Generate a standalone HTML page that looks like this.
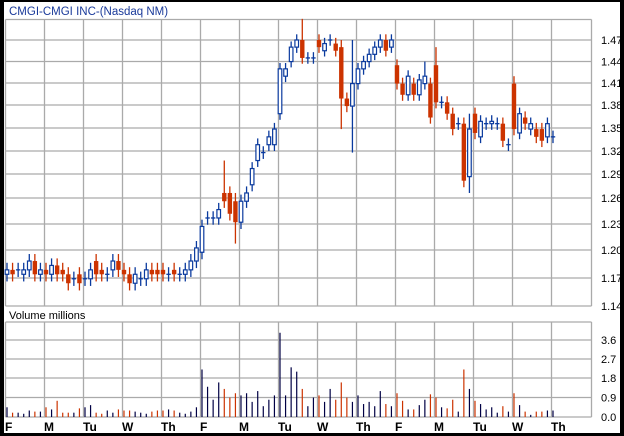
<!DOCTYPE html>
<html><head><meta charset="utf-8"><style>
html,body{margin:0;padding:0;background:#000;}
svg{display:block;font-family:"Liberation Sans",sans-serif;}
</style></head><body>
<svg id="s" width="624" height="436" xmlns="http://www.w3.org/2000/svg">
<rect x="0" y="0" width="624" height="436" fill="#000"/>
<rect x="4" y="2" width="616" height="431" fill="#fff"/>
<g id="g"></g>
<text x="9" y="15" font-size="11.5" fill="#1a3a9a">CMGI-CMGI INC-(Nasdaq NM)</text>
<text x="9" y="319" font-size="11" fill="#000">Volume  millions</text>
</svg>
<script>
var NS="http://www.w3.org/2000/svg",g=document.getElementById("g"),h="";
function Y(p){return 40+1046*(Math.log(1.47)-Math.log(p));}
var pl=[[1.47,40],[1.44,61.5],[1.41,83],[1.38,105],[1.35,128],[1.32,151],[1.29,174],[1.26,198],[1.23,224],[1.20,250],[1.17,278],[1.14,306]];
var G='stroke="#aaa" stroke-width="1.3"';
// vertical grid
var days=["F","M","Tu","W","Th","F","M","Tu","W","Th","F","M","Tu","W","Th"];
for(var d=0;d<15;d++){var x=5.5+d*39;
 h+='<line x1="'+x+'" y1="19.5" x2="'+x+'" y2="306" '+G+'/>';
 h+='<line x1="'+x+'" y1="322" x2="'+x+'" y2="417" '+G+'/>';
 h+='<text x="'+(x-0.5)+'" y="431" font-size="12" font-weight="bold" fill="#000">'+days[d]+'</text>';}
h+='<line x1="591.5" y1="19.5" x2="591.5" y2="306" '+G+'/><line x1="591.5" y1="322" x2="591.5" y2="417" '+G+'/>';
h+='<line x1="5.5" y1="19.5" x2="591.5" y2="19.5" '+G+'/><line x1="5.5" y1="322" x2="591.5" y2="322" '+G+'/>';
pl.forEach(function(a){h+='<line x1="5.5" y1="'+a[1]+'" x2="591.5" y2="'+a[1]+'" '+G+'/>';
 h+='<text x="601" y="'+(a[1]+4)+'" font-size="11" fill="#000">'+a[0].toFixed(2)+'</text>';});
var vl=[[3.6,340],[2.7,359],[1.8,378],[0.9,397.5],[0.0,417]];
vl.forEach(function(a){h+='<line x1="5.5" y1="'+a[1]+'" x2="591.5" y2="'+a[1]+'" '+G+'/>';
 h+='<text x="601" y="'+(a[1]+4)+'" font-size="11" fill="#000">'+a[0].toFixed(1)+'</text>';});
var D=[
[1.175,1.18],[1.18,1.175],[1.18,1.18],[1.175,1.18],[1.18,1.19],[1.19,1.175],[1.175,1.18],
[1.18,1.175],[1.175,1.185],[1.185,1.175],[1.18,1.175],[1.175,1.165],[1.17,1.17],[1.175,1.165],
[1.17,1.17],[1.17,1.18],[1.19,1.175],[1.18,1.175],[1.175,1.175],[1.18,1.19],[1.19,1.18],
[1.18,1.175],[1.175,1.165],[1.165,1.175],[1.17,1.17],[1.17,1.18],[1.18,1.175],[1.18,1.175],
[1.18,1.175],[1.175,1.175],[1.18,1.175],[1.175,1.175],[1.175,1.18],[1.18,1.19],[1.19,1.205],
[1.20,1.23],[1.24,1.24],[1.24,1.24],[1.24,1.25],[1.27,1.26,1.31],[1.27,1.245],[1.26,1.235,1.27,1.21],
[1.235,1.26],[1.26,1.27],[1.28,1.30],[1.31,1.33],[1.32,1.32],[1.33,1.34],[1.33,1.35],
[1.37,1.43],[1.42,1.43],[1.44,1.46],[1.46,1.47],[1.47,1.445,1.50],[1.445,1.445],[1.445,1.445],
[1.47,1.46],[1.455,1.465],[1.47,1.47],[1.465,1.455],[1.46,1.39,1.47,1.35],[1.39,1.38],[1.38,1.41,1.47,1.32],
[1.41,1.43],[1.43,1.44],[1.44,1.45],[1.45,1.46],[1.46,1.47],[1.47,1.455],[1.46,1.47],
[1.435,1.41],[1.41,1.395],[1.395,1.42],[1.41,1.395],[1.395,1.415],[1.41,1.42,1.44],[1.41,1.365],
[1.435,1.385,1.46],[1.385,1.385],[1.385,1.37],[1.37,1.35],[1.357,1.357],[1.357,1.285],[1.29,1.35,1.37,1.27],
[1.37,1.345],[1.34,1.36],[1.357,1.357],[1.357,1.36],[1.357,1.357],[1.357,1.335],[1.33,1.33],
[1.41,1.35,1.42],[1.345,1.37],[1.365,1.357],[1.35,1.357],[1.35,1.34],[1.35,1.335],[1.34,1.357],[1.34,1.34]];
var V=[0.45,0.2,0.2,0.15,0.3,0.25,0.25,0.45,0.35,0.75,0.2,0.2,0.2,0.4,0.45,0.55,0.2,0.15,0.3,0.2,0.35,
0.3,0.3,0.25,0.2,0.15,0.25,0.3,0.3,0.35,0.3,0.2,0.15,0.25,0.45,
2.2,1.4,0.8,1.6,1.3,0.9,1.1,1.0,1.1,0.7,1.2,0.5,0.8,1.0,3.9,1.0,2.3,2.1,1.3,0.5,0.9,
1.0,0.7,1.3,0.8,1.6,0.9,0.7,1.0,0.6,0.7,0.5,1.2,0.6,0.5,1.1,
.75,.35,.35,.55,.8,1.05,.9,.45,.4,.8,.25,2.2,1.3,.75,.6,.35,.45,.2,.5,.25,1.1,.55,.25,.1,.25,.25,.3,.3];
for(var i=0;i<D.length;i++){var c=D[i],o=c[0],cl=c[1],x=7+i*39/7;
 var hi=c[2]||Math.max(o,cl)+0.008,lo=c[3]||Math.min(o,cl)-0.008;
 var up=cl>=o,col=up?"#0a3a9e":"#cc3300";
 h+='<line x1="'+x+'" y1="'+Y(hi)+'" x2="'+x+'" y2="'+Y(lo)+'" stroke="'+col+'" stroke-width="1.3"/>';
 var t=Y(Math.max(o,cl)),b=Y(Math.min(o,cl));
 if(b-t<1.5){h+='<line x1="'+(x-2.2)+'" y1="'+t+'" x2="'+(x+2.2)+'" y2="'+t+'" stroke="'+col+'" stroke-width="1.3"/>';}
 else if(up){h+='<rect x="'+(x-1.8)+'" y="'+t+'" width="3.6" height="'+(b-t)+'" fill="#fff" stroke="'+col+'" stroke-width="1.2"/>';}
 else{h+='<rect x="'+(x-2.2)+'" y="'+t+'" width="4.4" height="'+(b-t)+'" fill="'+col+'"/>';}
 var v=V[i]||0.2;
 h+='<line x1="'+x+'" y1="417" x2="'+x+'" y2="'+(417-v*21.6)+'" stroke="'+(up?"#000044":"#cc3300")+'" stroke-width="1.2"/>';}
g.innerHTML=h;
</script>
</body></html>
